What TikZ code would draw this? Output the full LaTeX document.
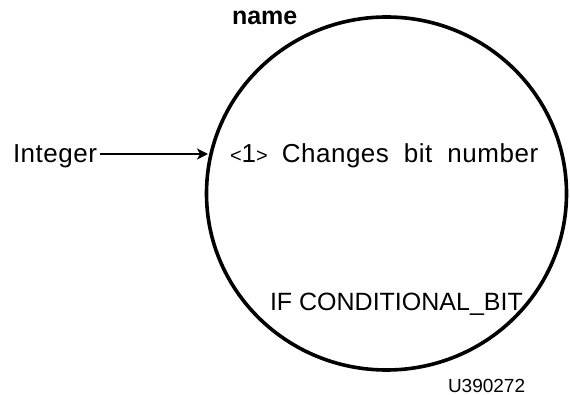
\documentclass[tikz,border=0pt]{standalone}
\usepackage{fontspec}
\setmainfont{Liberation Sans}
\usetikzlibrary{arrows.meta,shapes.geometric}
\begin{document}
\begin{tikzpicture}[x=1pt,y=-1pt,
  lbl/.style={inner sep=0pt, outer sep=0pt, anchor=base west, font=\fontsize{25}{30}\selectfont},
  wide/.style={font=\fontsize{26}{30}\selectfont\addfontfeature{LetterSpace=2}},
  bubble/.style={draw, ellipse, line width=3.6pt, minimum width=360pt, minimum height=353pt, inner sep=0pt},
  conn/.style={line width=1.8pt, -{Stealth[length=11pt,width=11pt,inset=3pt]}}]
\useasboundingbox (0,0) rectangle (570,395);
\node[bubble] (c) at (386.5,193.5) {};
\node[lbl, font=\fontsize{25}{30}\selectfont\bfseries] (name) at (232,25) {name};
\node[lbl, wide] (int) at (13,163) {Integer};
\coordinate (tip) at (208,154);
\draw[conn, shorten <=3pt] (int.east |- tip) -- (tip);
\node[lbl, wide] (t1) at (230,163) {{\fontsize{20}{24}\selectfont<}1{\fontsize{20}{24}\selectfont>}\hspace{14pt}{\spaceskip=15pt Changes bit number}};
\node[lbl] (t2) at (270,310) {IF CONDITIONAL\_BIT};
\node[lbl, font=\fontsize{19}{23}\selectfont] (id) at (448,392) {U390272};
\end{tikzpicture}
\end{document}
